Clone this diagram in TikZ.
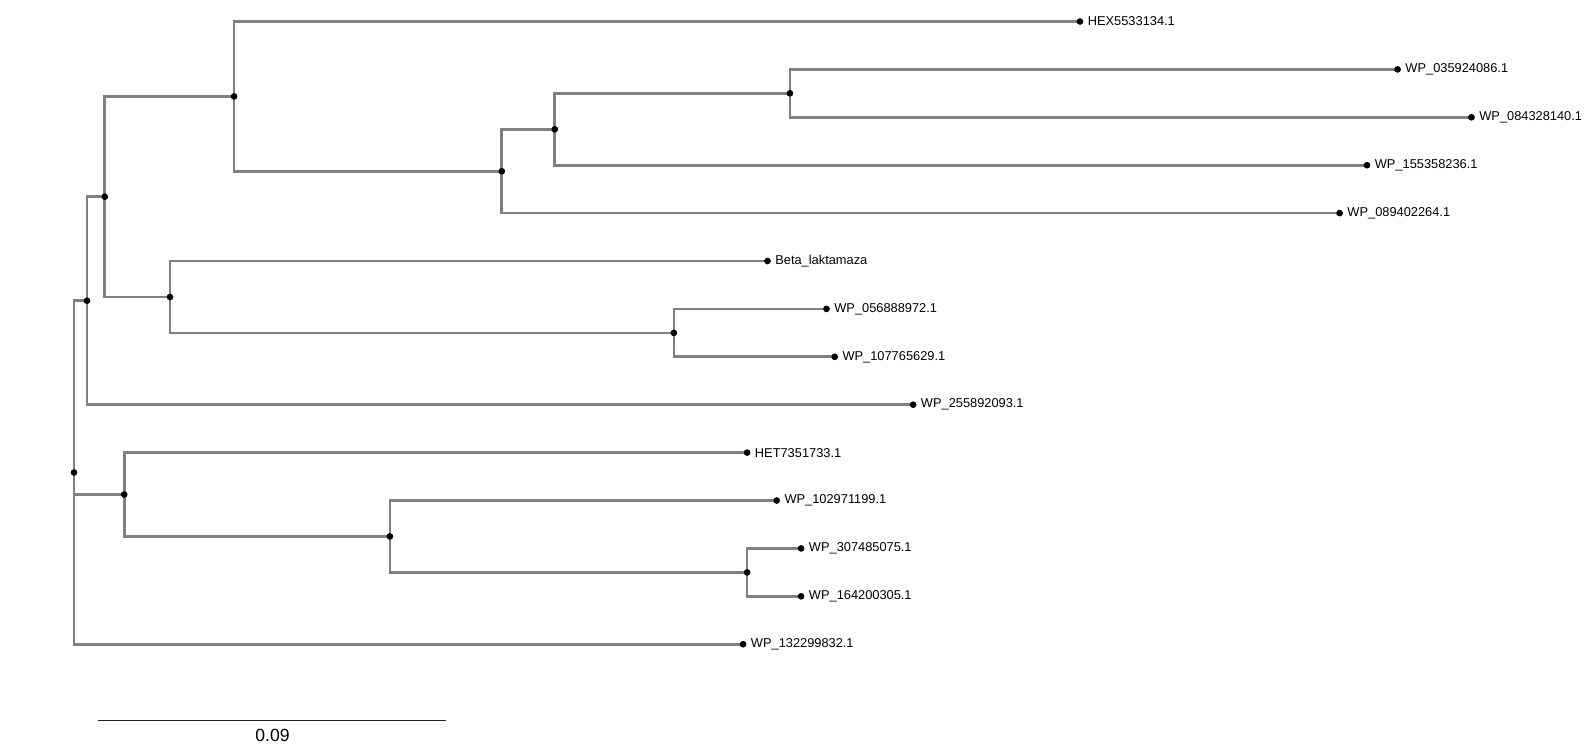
\documentclass[tikz,border=0pt]{standalone}
\usepackage{fontspec}
\setmainfont{Liberation Sans}
\usepackage{xcolor}
\definecolor{treegray}{RGB}{128,128,128}
\definecolor{treedot}{RGB}{0,0,0}
\definecolor{scaleblack}{RGB}{34,34,34}
\usetikzlibrary{calc}

\begin{document}
\begin{tikzpicture}[x=0.02cm, y=-0.02cm,
    branch/.style={treegray, line width=1.5pt},
    leaflab/.style={anchor=west, inner sep=0pt, xshift=0.15cm, font=\fontsize{7.3}{8.7}\selectfont},
    scalebar/.style={scaleblack, line width=0.75pt}]
\useasboundingbox (0,0) rectangle (1596,747);

% --- Leaves (tips) ---
\coordinate (hex553) at (1080,21.5);
\coordinate (wp035) at (1397.6,69.4);
\coordinate (wp084) at (1471.5,117.3);
\coordinate (wp155) at (1367,165.2);
\coordinate (wp089) at (1339.6,213.1);
\coordinate (beta) at (767.5,261);
\coordinate (wp056) at (826.5,308.9);
\coordinate (wp107) at (834.7,356.8);
\coordinate (wp255) at (913.1,404.7);
\coordinate (het735) at (747.1,452.6);
\coordinate (wp102) at (776.7,500.5);
\coordinate (wp307) at (801.1,548.4);
\coordinate (wp164) at (801.1,596.3);
\coordinate (wp132) at (743.1,644.2);

% --- Internal nodes ---
\coordinate (ng) at (789.9,93.3);
\coordinate (nf) at (554.8,129.3);
\coordinate (ne) at (501.8,171.2);
\coordinate (nc) at (234.1,96.4);
\coordinate (nh) at (673.9,332.9);
\coordinate (nd) at (170,297);
\coordinate (nb) at (104.8,196.7);
\coordinate (na) at (87,300.7);
\coordinate (nk) at (747.1,572.4);
\coordinate (nj) at (389.9,536.4);
\coordinate (ni) at (124.2,494.5);
\coordinate (root) at (74,472.5);

% --- Branches ---
\draw[branch] (root) |- (na);
\draw[branch] (root) |- (ni);
\draw[branch] (root) |- (wp132);
\draw[branch] (na) |- (nb);
\draw[branch] (na) |- (wp255);
\draw[branch] (nb) |- (nc);
\draw[branch] (nb) |- (nd);
\draw[branch] (nc) |- (hex553);
\draw[branch] (nc) |- (ne);
\draw[branch] (ne) |- (nf);
\draw[branch] (ne) |- (wp089);
\draw[branch] (nf) |- (ng);
\draw[branch] (nf) |- (wp155);
\draw[branch] (ng) |- (wp035);
\draw[branch] (ng) |- (wp084);
\draw[branch] (nd) |- (beta);
\draw[branch] (nd) |- (nh);
\draw[branch] (nh) |- (wp056);
\draw[branch] (nh) |- (wp107);
\draw[branch] (ni) |- (het735);
\draw[branch] (ni) |- (nj);
\draw[branch] (nj) |- (wp102);
\draw[branch] (nj) |- (nk);
\draw[branch] (nk) |- (wp307);
\draw[branch] (nk) |- (wp164);

% --- Dots ---
\foreach \n in {root,na,nb,nc,nd,ne,nf,ng,nh,ni,nj,nk,
                hex553,wp035,wp084,wp155,wp089,beta,wp056,wp107,
                wp255,het735,wp102,wp307,wp164,wp132}
  \fill[treedot] (\n) circle (0.067cm);

% --- Tip labels ---
\node[leaflab] (hex553lab) at (hex553) {HEX5533134.1};
\node[leaflab] (wp035lab) at (wp035) {WP\_035924086.1};
\node[leaflab] (wp084lab) at (wp084) {WP\_084328140.1};
\node[leaflab] (wp155lab) at (wp155) {WP\_155358236.1};
\node[leaflab] (wp089lab) at (wp089) {WP\_089402264.1};
\node[leaflab] (betalab) at (beta) {Beta\_laktamaza};
\node[leaflab] (wp056lab) at (wp056) {WP\_056888972.1};
\node[leaflab] (wp107lab) at (wp107) {WP\_107765629.1};
\node[leaflab] (wp255lab) at (wp255) {WP\_255892093.1};
\node[leaflab] (het735lab) at (het735) {HET7351733.1};
\node[leaflab] (wp102lab) at (wp102) {WP\_102971199.1};
\node[leaflab] (wp307lab) at (wp307) {WP\_307485075.1};
\node[leaflab] (wp164lab) at (wp164) {WP\_164200305.1};
\node[leaflab] (wp132lab) at (wp132) {WP\_132299832.1};

% --- Scale bar ---
\coordinate (sbleft) at (97.7,720.5);
\coordinate (sbright) at (445.8,720.5);
\draw[scalebar] (sbleft) -- (sbright);
\node[inner sep=0pt, font=\fontsize{10}{12}\selectfont] (sblab) at (272.5,735) {0.09};

\end{tikzpicture}
\end{document}
